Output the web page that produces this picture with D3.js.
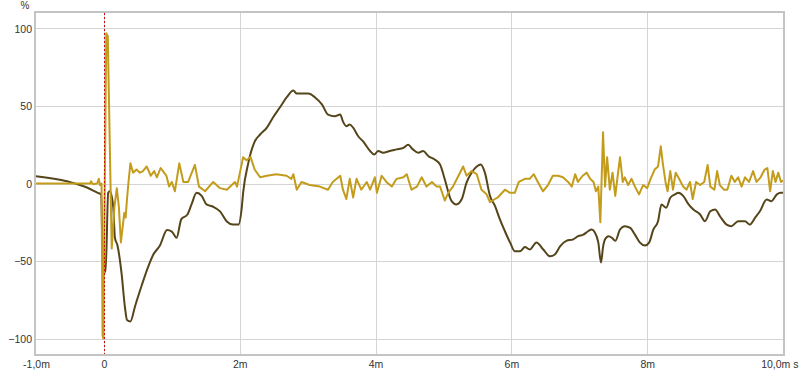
<!DOCTYPE html>
<html>
<head>
<meta charset="utf-8">
<script src="https://cdn.jsdelivr.net/npm/d3@7"></script>
<style>
    body { margin: 0; background: #ffffff; }
    #container { width: 800px; height: 373px; }
    text { font-family: "Liberation Sans", Arial, sans-serif; font-size: 10.5px; fill: #333333; }
</style>
</head>
<body>
<div id="container"></div>
<script>

// time in ms, value in %
var darkTime = [-1.0, -0.545, -0.25, -0.09, -0.04, -0.015, 0.025, 0.063, 0.088, 0.137, 0.162, 0.2, 0.26, 0.31, 0.34, 0.39,
    0.46, 0.555, 0.65, 0.726, 0.825, 0.93, 1.0, 1.07, 1.14, 1.23, 1.29, 1.365, 1.44, 1.51, 1.61, 1.71, 1.81, 1.9, 1.98,
    2.03, 2.05, 2.125, 2.22, 2.3, 2.4, 2.49, 2.59, 2.69, 2.79, 2.84, 2.91, 3.01, 3.11, 3.21, 3.3, 3.4, 3.48, 3.52, 3.57,
    3.62, 3.67, 3.745, 3.82, 3.92, 3.98, 4.04, 4.11, 4.21, 4.31, 4.41, 4.48, 4.55, 4.63, 4.70, 4.78, 4.87, 4.95, 5.02,
    5.12, 5.19, 5.27, 5.34, 5.415, 5.49, 5.55, 5.61, 5.685, 5.76, 5.83, 5.905, 5.98, 6.05, 6.13, 6.20, 6.27, 6.37, 6.47,
    6.57, 6.64, 6.72, 6.81, 6.91, 6.985, 7.06, 7.13, 7.18, 7.23, 7.28, 7.32, 7.35, 7.38, 7.43, 7.48, 7.53, 7.60, 7.67,
    7.75, 7.82, 7.89, 7.97, 8.03, 8.09, 8.16, 8.21, 8.28, 8.34, 8.41, 8.46, 8.53, 8.61, 8.68, 8.78, 8.85, 8.93, 9.0,
    9.07, 9.17, 9.24, 9.34, 9.44, 9.51, 9.59, 9.66, 9.76, 9.83, 9.91, 9.97, 10.0];
var darkValue = [4.7, 1.5, -2.6, -6, -7, -57, -57, -6, -5, -15, -35, -40, -58, -80, -88, -89,
    -79, -66, -54, -46, -40, -30, -31, -35, -23, -20, -13.5, -6, -8, -13.5, -15, -18, -24.5, -26.5, -26.5,
    -15.5, -6, 13, 27, 31.6, 36, 42.6, 49, 55.5, 60, 58, 58, 58, 55.5, 51, 44.5, 43.4, 44.5, 40, 37,
    38, 36, 30.5, 27, 21, 18.7, 21, 19.8, 21, 22, 23, 25, 22, 19.8, 21, 17.6, 15.5, 12.3, 2.6,
    -11.4, -13.5, -10, 0.6, 7, 11, 12.3, 7, -8, -14.6, -23, -30.8, -38, -43.7, -43.7, -41, -42.6, -38, -42.6,
    -47, -45.8, -40.4, -37, -36, -34, -33, -30.8, -29.7, -31.6, -38, -51, -41, -36, -34, -35, -37, -29.7, -27.5,
    -28.6, -33, -38, -40, -38, -29.7, -24.3, -13.5, -15.7, -9.2, -7, -6, -8, -13.5, -16.8, -20, -24.3, -17.9, -16.8,
    -21, -26.5, -27.5, -24.3, -24.3, -26.5, -22, -17.9, -10.3, -11.4, -7, -6, -6];

var goldTime = [-1.0, -0.2, -0.19, -0.16, -0.1, -0.075, -0.06, -0.035, -0.02, -0.01, 0.035, 0.057, 0.115, 0.155, 0.19,
    0.22, 0.25, 0.3, 0.32, 0.34, 0.36, 0.39, 0.43, 0.48, 0.53, 0.575, 0.63, 0.69, 0.74, 0.78, 0.835, 0.87, 0.92, 0.96,
    1.0, 1.045, 1.11, 1.17, 1.24, 1.34, 1.40, 1.49, 1.61, 1.71, 1.81, 1.93, 1.96, 2.05, 2.10, 2.16, 2.22, 2.30, 2.40,
    2.54, 2.69, 2.76, 2.79, 2.84, 2.91, 3.03, 3.18, 3.30, 3.37, 3.48, 3.52, 3.57, 3.62, 3.67, 3.72, 3.79, 3.87, 3.92,
    3.99, 4.02, 4.09, 4.16, 4.24, 4.31, 4.41, 4.46, 4.53, 4.61, 4.68, 4.75, 4.83, 4.90, 4.95, 5.02, 5.07, 5.14, 5.21,
    5.29, 5.34, 5.415, 5.49, 5.56, 5.635, 5.685, 5.76, 5.80, 5.905, 5.98, 6.05, 6.11, 6.20, 6.27, 6.33, 6.39, 6.465,
    6.54, 6.61, 6.69, 6.76, 6.835, 6.89, 6.94, 6.98, 7.05, 7.11, 7.16, 7.21, 7.245, 7.28, 7.31, 7.35, 7.38, 7.41, 7.45,
    7.49, 7.53, 7.56, 7.60, 7.64, 7.67, 7.72, 7.77, 7.82, 7.88, 7.94, 8.0, 8.05, 8.11, 8.16, 8.20, 8.23, 8.27, 8.30,
    8.34, 8.38, 8.42, 8.47, 8.53, 8.58, 8.63, 8.67, 8.72, 8.78, 8.84, 8.89, 8.93, 8.99, 9.03, 9.07, 9.13, 9.18, 9.24,
    9.29, 9.34, 9.39, 9.44, 9.50, 9.56, 9.61, 9.67, 9.73, 9.77, 9.81, 9.85, 9.89, 9.93, 9.97, 10.0];
var goldValue = [0, 0, 1.5, -0.5, 0, 3, -1, 0, -98, -100, 97, 95, -42, -15, -3,
    -15, -38, -19, -22, -10, 0, 13, 7, 9, 7, 8, 11, 5, 8, 4, 10, 8, 5, -2,
    1, -5, 13, 1, 1, 12, -2, -5, 1, -3, -4, 1, -2, 17, 15, 17, 9, 4, 5,
    6, 5, 3, 6, -4, 1, -1, -2, -4, 1, 5, -4, -10, 3, -9, 3, -4, 1, -4,
    4, -6, 5, 1, -2, 3, 4, 6, -4, -2, 4, -2, 1, -2, -2, -11, -6, -2, 4,
    11, 5, 8, 6, -4, -7, -12, -10, -9, -4, -6, -6, 1, 3, 3, 6, 1, -5,
    -1, 5, 5, 4, 1, -2, 6, 1, 5, 7, 3, 1, -5, -2, -25, 33, -2, 17, -4,
    7, -8, 3, 17, 1, 4, -1, 3, -2, -7, -1, -3, 3, 9, 11, 24, 13, 1, -5,
    8, -4, 7, 3, -2, -4, 1, -10, 1, -1, 1, 12, -2, -4, 8, -1, -4, -4, 5,
    1, 4, -2, 4, 1, 8, 1, 4, 9, 10, -5, 8, 1, 7, 1, 2];

var xTicks = [-1, 0, 2, 4, 6, 8, 10];
var xTickLabels = ["-1,0m", "0", "2m", "4m", "6m", "8m", "10,0m s"];
var yTicks = [-100, -50, 0, 50, 100];
var xGrid = [0, 2, 4, 6, 8];

const margin = { top: 13, right: 17, bottom: 19, left: 36 },
    width = 800 - margin.left - margin.right,
    height = 373 - margin.top - margin.bottom;

var svg = d3.select("#container")
    .append("svg")
    .attr("width", 800)
    .attr("height", 373);

var g = svg.append("g")
    .attr("transform", "translate(" + margin.left + "," + margin.top + ")");

var x = d3.scaleLinear().domain([-1, 10]).range([0, width]);
var y = d3.scaleLinear().domain([-110, 110]).range([height, 0]);

// grid
g.selectAll(".hgrid")
    .data(yTicks)
    .enter()
    .append("line")
    .attr("x1", 0).attr("x2", width)
    .attr("y1", function (d) { return Math.round(y(d)) + 0.5 })
    .attr("y2", function (d) { return Math.round(y(d)) + 0.5 })
    .attr("stroke", "#d4d4d4");

g.selectAll(".vgrid")
    .data(xGrid)
    .enter()
    .append("line")
    .attr("y1", 0).attr("y2", height)
    .attr("x1", function (d) { return Math.round(x(d)) + 0.5 })
    .attr("x2", function (d) { return Math.round(x(d)) + 0.5 })
    .attr("stroke", "#d4d4d4");

// axes, labels only
var yAxis = g.append("g")
    .call(d3.axisLeft(y).tickValues(yTicks).tickSize(0).tickPadding(4));
yAxis.select(".domain").remove();
yAxis.selectAll("text").attr("font-family", null).attr("font-size", null).attr("dy", "0.35em");

var xAxis = g.append("g")
    .attr("transform", "translate(0," + height + ")")
    .call(d3.axisBottom(x).tickValues(xTicks).tickSize(0).tickPadding(7)
        .tickFormat(function (d, i) { return xTickLabels[i] }));
xAxis.select(".domain").remove();
xAxis.selectAll("text").attr("font-family", null).attr("font-size", null);
xAxis.selectAll("text").filter(function (d) { return d === 10 })
    .attr("text-anchor", "end").attr("dx", 15);

svg.append("text")
    .attr("x", 25)
    .attr("y", 9)
    .attr("text-anchor", "middle")
    .style("font-size", "10px")
    .text("%");

// series
var darkLine = d3.line()
    .curve(d3.curveMonotoneX)
    .x(function (d) { return x(d[0]) })
    .y(function (d) { return y(d[1]) });

var goldLine = d3.line()
    .x(function (d) { return x(d[0]) })
    .y(function (d) { return y(d[1]) });

var darkData = darkTime.map(function (t, i) { return [t, darkValue[i]] });
var goldData = goldTime.map(function (t, i) { return [t, goldValue[i]] });

g.append("clipPath").attr("id", "clip")
    .append("rect").attr("width", width).attr("height", height);

var plot = g.append("g").attr("clip-path", "url(#clip)");

plot.append("path")
    .datum(darkData)
    .attr("d", darkLine)
    .attr("fill", "none")
    .attr("stroke", "#55451a")
    .attr("stroke-width", 2)
    .attr("stroke-linejoin", "round");

plot.append("path")
    .datum(goldData)
    .attr("d", goldLine)
    .attr("fill", "none")
    .attr("stroke", "#c39c1c")
    .attr("stroke-width", 2)
    .attr("stroke-linejoin", "round");

// marker at t = 0
plot.append("line")
    .attr("x1", Math.round(x(0)) + 0.5).attr("x2", Math.round(x(0)) + 0.5)
    .attr("y1", 0).attr("y2", height)
    .attr("stroke", "#d01010")
    .attr("stroke-width", 1)
    .attr("stroke-dasharray", "2,2");

// frame
g.append("rect")
    .attr("x", -1).attr("y", -1)
    .attr("width", width + 2).attr("height", height + 2)
    .attr("fill", "none")
    .attr("stroke", "#c4c4c4")
    .attr("stroke-width", 2);

</script>
</body>
</html>
